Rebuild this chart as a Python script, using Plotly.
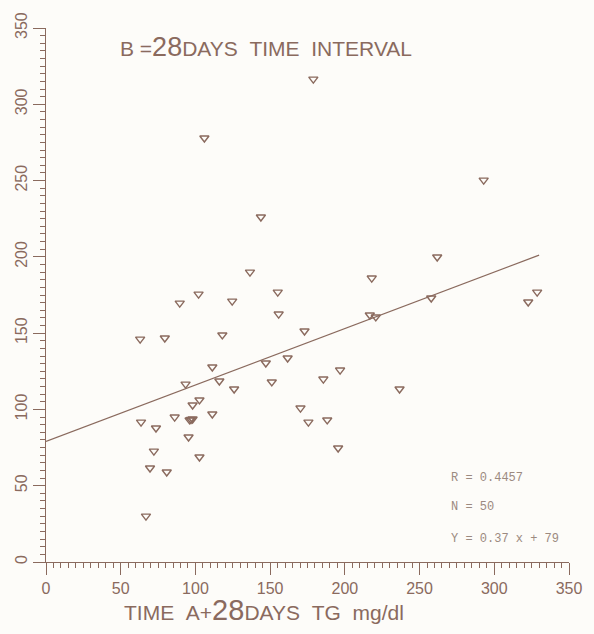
import plotly.graph_objects as go

# Data (TG mg/dl)
time_a28 = [63.0, 79.5, 118.0, 111.3, 93.4, 116.0, 125.9, 98.1, 102.7, 86.1,
            96.1, 98.1, 111.3, 63.6, 73.6, 95.4, 72.2, 102.7, 69.6, 80.8,
            66.9, 136.5, 155.1, 155.7, 173.0, 147.1, 161.7, 196.8, 151.1, 185.6,
            170.3, 175.6, 188.2, 195.5, 106.0, 143.8, 102.1, 124.6, 292.9, 261.8,
            218.0, 257.8, 216.7, 220.7, 322.7, 328.7, 236.6, 178.9, 89.5, 97.0]
time_b = [146.1, 146.8, 148.8, 127.8, 116.6, 118.6, 113.4, 102.9, 106.2, 95.0,
          93.1, 93.7, 97.0, 91.7, 87.8, 81.9, 72.7, 68.8, 61.6, 59.0,
          30.1, 190.0, 176.9, 162.5, 151.4, 130.4, 133.7, 125.8, 118.0, 119.9,
          100.9, 91.7, 93.1, 74.7, 277.9, 226.1, 175.6, 171.0, 250.3, 199.9,
          186.1, 173.0, 161.9, 160.6, 170.4, 176.9, 113.4, 316.5, 169.7, 93.4]

slope = 0.37
intercept = 79
fit_x = [0, 330]
fit_y = [intercept + slope * v for v in fit_x]

major_ticks = [0, 50, 100, 150, 200, 250, 300, 350]

ink = "#8a6a5e"
sans = "Liberation Sans, Arial, sans-serif"

fig = go.Figure()
fig.add_trace(go.Scatter(x=fit_x, y=fit_y, mode="lines",
                         line=dict(color=ink, width=1.2), hoverinfo="skip",
                         showlegend=False))
fig.add_trace(go.Scatter(x=time_a28, y=time_b, mode="markers",
                         marker=dict(symbol="triangle-down-open", size=8,
                                     color=ink, line=dict(width=1.4, color=ink)),
                         showlegend=False))

axis_common = dict(
    range=[0, 350], tickvals=major_ticks, showgrid=False, zeroline=False,
    showline=True, linecolor=ink, linewidth=1.2,
    ticks="outside", ticklen=12, tickwidth=1.2, tickcolor=ink,
    minor=dict(dtick=5, ticks="outside", ticklen=5, tickwidth=1.2, tickcolor=ink),
    tickfont=dict(family="Liberation Sans Narrow, Liberation Sans, sans-serif",
                  size=16, color=ink),
)

fig.update_xaxes(**axis_common)
fig.update_yaxes(**axis_common, tickangle=-90)

# chart heading
fig.add_annotation(xref="paper", yref="paper", x=0.137, y=0.965, xanchor="left", yanchor="middle",
                   text="B =<span style='font-size:27px'>28</span>DAYS &nbsp;TIME &nbsp;INTERVAL",
                   showarrow=False, font=dict(family=sans, size=21, color=ink))

# x-axis title
fig.add_annotation(xref="paper", yref="paper", x=0.145, y=-0.09, xanchor="left", yanchor="middle",
                   text="TIME &nbsp;A+<span style='font-size:29px'>28</span>DAYS &nbsp;TG &nbsp;mg/dl",
                   showarrow=False, font=dict(family=sans, size=21, color=ink))

stat_font = dict(family="Liberation Mono, DejaVu Sans Mono, monospace", size=12, color="#9c8a80")
for txt, yv in [("R = 0.4457", 55), ("N = 50", 36), ("Y = 0.37 x + 79", 15)]:
    fig.add_annotation(x=270, y=yv, xanchor="left", yanchor="middle", text=txt,
                       showarrow=False, font=stat_font)

fig.update_layout(
    width=594, height=634,
    margin=dict(l=43, r=23, t=28, b=72),
    paper_bgcolor="#fdfcf9", plot_bgcolor="#fdfcf9",
)

fig.write_html("out.html")
